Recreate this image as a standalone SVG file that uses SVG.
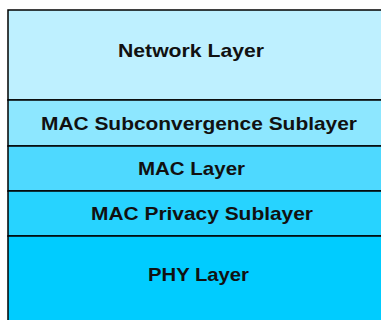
<svg xmlns="http://www.w3.org/2000/svg" width="381" height="320" viewBox="0 0 381 320">
<style>
.layer{stroke:#000;stroke-width:1.5}
.lbl{font-family:"Liberation Sans",Arial,sans-serif;font-size:19px;font-weight:bold;fill:#111}
</style>
<rect width="381" height="320" fill="#fff"/>
<g id="network-layer">
<rect class="layer" x="8" y="10" width="390" height="90" fill="#BEF0FF"/>
<text class="lbl" x="118" y="57" textLength="146" lengthAdjust="spacingAndGlyphs">Network Layer</text>
</g>
<g id="mac-subconvergence-sublayer">
<rect class="layer" x="8" y="100" width="390" height="46" fill="#8DE7FF"/>
<text class="lbl" x="41" y="130" textLength="316" lengthAdjust="spacingAndGlyphs">MAC Subconvergence Sublayer</text>
</g>
<g id="mac-layer">
<rect class="layer" x="8" y="146" width="390" height="45" fill="#4ED9FF"/>
<text class="lbl" x="138" y="175" textLength="107" lengthAdjust="spacingAndGlyphs">MAC Layer</text>
</g>
<g id="mac-privacy-sublayer">
<rect class="layer" x="8" y="191" width="390" height="45" fill="#27D3FF"/>
<text class="lbl" x="91" y="220" textLength="222" lengthAdjust="spacingAndGlyphs">MAC Privacy Sublayer</text>
</g>
<g id="phy-layer">
<rect class="layer" x="8" y="236" width="390" height="100" fill="#00CCFF"/>
<text class="lbl" x="148" y="281" textLength="101" lengthAdjust="spacingAndGlyphs">PHY Layer</text>
</g>
<g id="connectors"/>
</svg>
